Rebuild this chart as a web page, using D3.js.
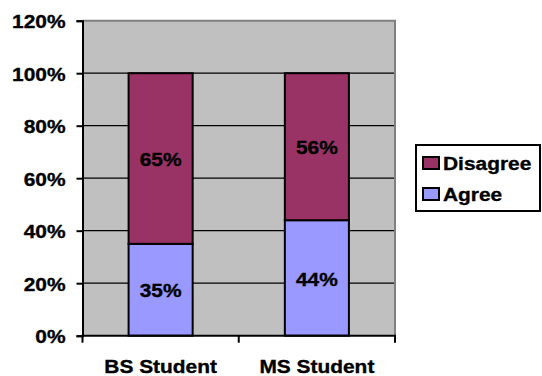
<!DOCTYPE html>
<html>
<head>
<meta charset="utf-8">
<script src="https://cdn.jsdelivr.net/npm/d3@7"></script>
<style>
  html, body { margin: 0; padding: 0; background: #fff; }
  svg { display: block; }
  text { font-family: "Liberation Sans", Arial, sans-serif; font-weight: bold; fill: #000; stroke: #000; stroke-width: 0.35px; }
</style>
</head>
<body>
<svg id="chart" width="542" height="376"></svg>
<script>
// Survey responses by student group (shares of respondents)
const categories = ["BS Student", "MS Student"];
const agree = [0.35, 0.44];
const disagree = [0.65, 0.56];
const seriesNames = ["Disagree", "Agree"];
const seriesColors = ["#993366", "#9999FF"];
const yTicks = [0, 0.2, 0.4, 0.6, 0.8, 1.0, 1.2];

const svg = d3.select("#chart");
const plot = { left: 82.5, right: 395, top: 20.7, bottom: 335.7 };
const fontSize = 19;
const stretch = 1.1;

const x = d3.scaleBand().domain(categories).range([plot.left, plot.right]);
const y = d3.scaleLinear().domain([0, 1.2]).range([plot.bottom, plot.top]);
const barW = x.bandwidth() * 0.41;
const pct = d3.format(".0%");

// plot background
svg.append("rect")
  .attr("x", plot.left).attr("y", plot.top)
  .attr("width", plot.right - plot.left).attr("height", plot.bottom - plot.top)
  .attr("fill", "#C0C0C0");

// horizontal gridlines
svg.append("g").selectAll("line")
  .data(yTicks.filter(t => t > 0 && t < 1.2))
  .join("line")
  .attr("x1", plot.left).attr("x2", plot.right)
  .attr("y1", d => y(d)).attr("y2", d => y(d))
  .attr("stroke", "#000").attr("stroke-width", 1.3);

// top and right frame
svg.append("path")
  .attr("d", `M${plot.left},${plot.top}H${plot.right}V${plot.bottom}`)
  .attr("fill", "none").attr("stroke", "#808080").attr("stroke-width", 2);

// stacked bars
const stacks = categories.map((c, i) => ({
  cat: c,
  segs: [
    { v0: 0, v1: agree[i], value: agree[i], color: seriesColors[1] },
    { v0: agree[i], v1: agree[i] + disagree[i], value: disagree[i], color: seriesColors[0] }
  ]
}));

const barG = svg.append("g").selectAll("g").data(stacks).join("g");
barG.selectAll("rect").data(d => d.segs.map(s => ({ ...s, cat: d.cat })))
  .join("rect")
  .attr("x", d => x(d.cat) + (x.bandwidth() - barW) / 2)
  .attr("y", d => y(d.v1))
  .attr("width", barW)
  .attr("height", d => y(d.v0) - y(d.v1))
  .attr("fill", d => d.color)
  .attr("stroke", "#000").attr("stroke-width", 2);

// value labels
barG.selectAll("text").data(d => d.segs.map(s => ({ ...s, cat: d.cat })))
  .join("text")
  .attr("text-anchor", "middle")
  .attr("font-size", fontSize)
  .attr("transform", d => `translate(${x(d.cat) + x.bandwidth() / 2},${y((d.v0 + d.v1) / 2) + 0.4 * fontSize}) scale(${stretch},1)`)
  .text(d => pct(d.value));

// y axis
const yAxis = svg.append("g")
  .attr("transform", `translate(${plot.left},0)`)
  .call(d3.axisLeft(y).tickValues(yTicks).tickFormat(pct).tickSize(6).tickPadding(0));
yAxis.select(".domain").attr("stroke", "#000").attr("stroke-width", 2);
yAxis.selectAll(".tick line").attr("stroke", "#000").attr("stroke-width", 2);
yAxis.selectAll(".tick text")
  .attr("x", 0).attr("dy", null)
  .attr("font-size", fontSize).attr("font-family", null)
  .attr("transform", `translate(-17,${0.36 * fontSize}) scale(${stretch},1)`);

// x axis: line with ticks at category boundaries
const xAxisG = svg.append("g");
xAxisG.append("line")
  .attr("x1", plot.left - 1).attr("x2", plot.right + 1)
  .attr("y1", plot.bottom).attr("y2", plot.bottom)
  .attr("stroke", "#000").attr("stroke-width", 2);
const bounds = [plot.left, ...categories.slice(1).map(c => x(c)), plot.right];
xAxisG.selectAll("line.tk").data(bounds).join("line")
  .attr("class", "tk")
  .attr("x1", d => d).attr("x2", d => d)
  .attr("y1", plot.bottom).attr("y2", plot.bottom + 7)
  .attr("stroke", "#000").attr("stroke-width", 2);
xAxisG.selectAll("text").data(categories).join("text")
  .attr("text-anchor", "middle")
  .attr("font-size", fontSize)
  .attr("transform", d => `translate(${x(d) + x.bandwidth() / 2},373) scale(${stretch},1)`)
  .text(d => d);

// legend
const legend = svg.append("g");
legend.append("rect")
  .attr("x", 416).attr("y", 145).attr("width", 124).attr("height", 66)
  .attr("fill", "#fff").attr("stroke", "#000").attr("stroke-width", 2);
const items = legend.selectAll("g.item").data(seriesNames).join("g")
  .attr("class", "item")
  .attr("transform", (d, i) => `translate(423,${157 + i * 31})`);
items.append("rect")
  .attr("width", 16).attr("height", 12)
  .attr("fill", (d, i) => seriesColors[i])
  .attr("stroke", "#000").attr("stroke-width", 2);
items.append("text")
  .attr("font-size", fontSize)
  .attr("transform", `translate(20,12.5) scale(${stretch},1)`)
  .text(d => d);
</script>
</body>
</html>
